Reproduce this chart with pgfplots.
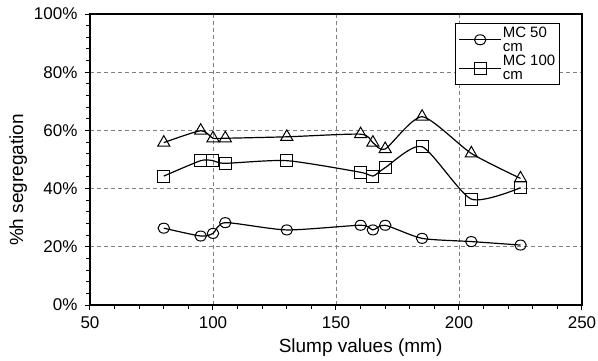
\documentclass[border=0pt]{standalone}
\usepackage{pgfplots}
\pgfplotsset{compat=1.18}
\usepackage{fontspec}
\setmainfont{Liberation Sans}
\begin{document}
\begin{tikzpicture}
\begin{axis}[
  scale only axis, width=492pt, height=291pt,
  xmin=50, xmax=250, ymin=0, ymax=100,
  xtick={50,100,...,250}, ytick={0,20,...,100},
  minor x tick num=4, minor y tick num=4,
  /pgf/number format/assume math mode=true,
  xticklabel={\mbox{\pgfmathprintnumber{\tick}}},
  yticklabel={\mbox{\pgfmathprintnumber{\tick}\%}},
  tick pos=left, tick align=outside,
  major tick length=5pt, minor tick length=4pt,
  every tick/.style={black, line width=1pt},
  xmajorgrids, ymajorgrids,
  major grid style={gray, dash pattern=on 4pt off 3pt, line width=0.9pt},
  axis line style={line width=1.6pt},
  tick label style={font=\fontsize{17}{19}\selectfont},
  xticklabel style={yshift=-3pt},
  yticklabel style={xshift=-4pt},
  label style={font=\fontsize{19}{21}\selectfont},
  xlabel={Slump values (mm)},
  ylabel={\%h segregation},
  xlabel style={at={(ticklabel cs:0.55)}, yshift=-3pt},
  ylabel style={at={(ticklabel cs:0.43)}, yshift=0pt},
  legend style={at={(rel axis cs:0.742,0.969)}, anchor=north west,
    draw=black, line width=1pt, fill=white,
    font=\fontsize{15}{14.5}\selectfont,
    nodes={align=left, inner sep=1pt}, row sep=0pt},
  legend cell align=left,
  legend image code/.code={\draw[mark repeat=2,mark phase=2,#1] plot coordinates {(0pt,0pt)(21pt,0pt)(42pt,0pt)};},
]
\addplot[black, line width=1.2pt, smooth, tension=0.4, mark=o, mark size=5pt,
  mark options={xscale=1.15, fill=white, solid, line width=1pt}]
  coordinates {(80,26.4)(95,23.7)(100,24.6)(105,28.3)(130,25.8)(160,27.4)(165,25.8)(170,27.4)(185,22.9)(205,21.8)(225,20.6)};
\addlegendentry{MC 50\\cm}
\addplot[black, line width=1.2pt, smooth, tension=0.4, mark=square, mark size=6pt,
  mark options={fill=white, solid, line width=1pt}]
  coordinates {(80,44.3)(95,49.6)(100,49.6)(105,48.7)(130,49.6)(160,45.6)(165,44.3)(170,47.2)(185,54.4)(205,36.4)(225,40.3)};
\addlegendentry{MC 100\\cm}
\addplot[black, line width=1.2pt, smooth, tension=0.4, mark=triangle, mark size=7pt, forget plot,
  mark options={fill=white, solid, line width=1pt}]
  coordinates {(80,55.8)(95,59.9)(100,57.3)(105,57.3)(130,57.8)(160,58.7)(165,55.8)(170,53.6)(185,64.7)(205,52.1)(225,43.5)};
\end{axis}
\pgfresetboundingbox
\path (current axis.south west) ++(-90pt,-55pt) rectangle ++(598pt,360pt);
\end{tikzpicture}
\end{document}
